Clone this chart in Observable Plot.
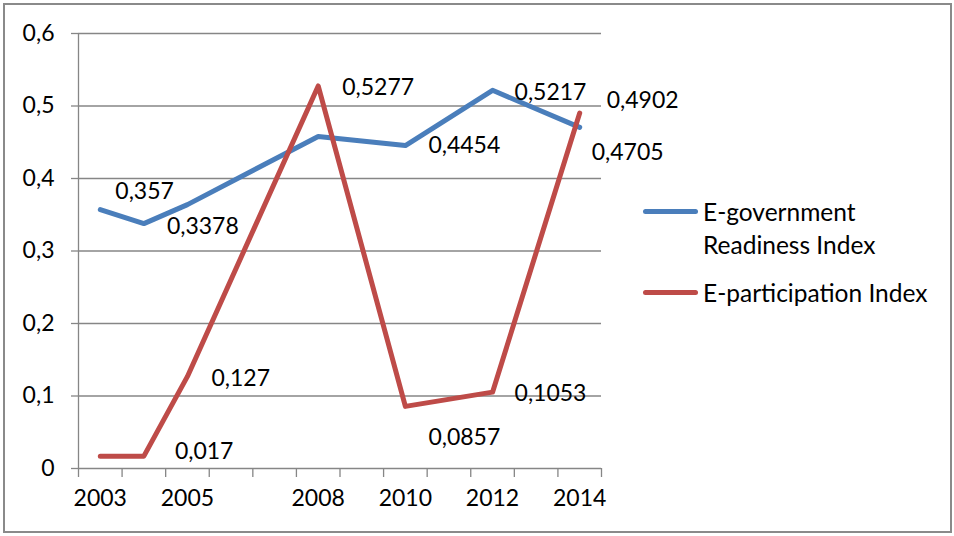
<!DOCTYPE html>
<html>
<head>
<meta charset="utf-8">
<script src="https://cdn.jsdelivr.net/npm/d3@7"></script>
<script src="https://cdn.jsdelivr.net/npm/@observablehq/plot@0.6"></script>
<style>
  html, body { margin: 0; padding: 0; background: #fff; }
  #wrap { position: relative; width: 954px; height: 536px; font-family: Lato, "Open Sans", sans-serif; color: #000; }
  #border { position: absolute; left: 3px; top: 3px; width: 945px; height: 526px; border: 2px solid #8a8a8a; pointer-events: none; }
  #wrap svg { position: absolute; left: 0; top: 0; }
  #wrap svg text { font-family: Lato, "Open Sans", sans-serif; font-size: 23px; fill: #000; }
  #wrap svg g[aria-label*="axis"] line, #wrap svg g[aria-label*="axis"] path { stroke: #868686; stroke-width: 1.3px; }
  .sw { position: absolute; height: 5px; width: 55px; border-radius: 3px; }
  .lt { position: absolute; font-size: 24.5px; line-height: 33px; white-space: nowrap; }
</style>
</head>
<body>
<div id="wrap">
  <div id="chart"></div>
  <div id="legend"></div>
  <div id="border"></div>
</div>
<script>
// ---- data ----
const years = [2003, 2004, 2005, 2008, 2010, 2012, 2014];
const egovValues = [0.357, 0.3378, 0.364, 0.458, 0.4454, 0.5217, 0.4705];
const epartValues = [0.017, 0.017, 0.127, 0.5277, 0.0857, 0.1053, 0.4902];
const egovShowLabel = [true, true, false, false, true, true, true];
const epartShowLabel = [false, true, true, true, true, true, true];
const seriesNames = ["E-government Readiness Index", "E-participation Index"];
const categoryYears = [2003, 2004, 2005, 2006, 2007, 2008, 2009, 2010, 2011, 2012, 2013, 2014];
const xTickLabels = [2003, 2005, 2008, 2010, 2012, 2014];
const yTicks = [0, 0.1, 0.2, 0.3, 0.4, 0.5, 0.6];

// ---- styling ----
const colors = ["#4a7ebb", "#be4b48"];
// label offsets (px) relative to each point, matching the reference's placement
const egovOffsets = [[15, -18], [23, 3], null, null, [23, 0], [22, 2], [12, 25]];
const epartOffsets = [null, [31, -5], [24, 2], [24, 2], [23, 31], [22, 1], [27, -12]];

const fmt = d => String(d).replace(".", ",");

const egov = years.map((year, i) => ({year, value: egovValues[i], show: egovShowLabel[i], off: egovOffsets[i]}));
const epart = years.map((year, i) => ({year, value: epartValues[i], show: epartShowLabel[i], off: epartOffsets[i]}));
const tickBounds = categoryYears.map(y => y - 0.5).concat([categoryYears[categoryYears.length - 1] + 0.5]);

function labelMarks(data) {
  return data.filter(d => d.show).map(d =>
    Plot.text([d], {x: "year", y: "value", text: r => fmt(r.value), textAnchor: "start", dx: d.off[0], dy: d.off[1], fill: "#000"})
  );
}

const chart = Plot.plot({
  width: 954,
  height: 536,
  marginLeft: 78,
  marginRight: 353,
  marginTop: 33,
  marginBottom: 68,
  style: {background: "transparent", fontFamily: "Lato, sans-serif", fontSize: "23px", color: "#000", overflow: "visible"},
  x: {type: "linear", domain: [tickBounds[0], tickBounds[tickBounds.length - 1]], ticks: tickBounds, tickFormat: () => "", tickSize: 9, label: null},
  y: {domain: [0, 0.6], ticks: yTicks, tickFormat: fmt, tickSize: 7, tickPadding: 17, label: null},
  marks: [
    Plot.ruleY(yTicks, {stroke: "#868686", strokeWidth: 1.3}),
    Plot.ruleX([tickBounds[0]], {stroke: "#868686", strokeWidth: 1.3}),
    Plot.text(xTickLabels, {x: d => d, y: () => 0, dy: 30, text: d => String(d), fill: "#000"}),
    Plot.line(egov, {x: "year", y: "value", stroke: colors[0], strokeWidth: 5, strokeLinecap: "round", strokeLinejoin: "round"}),
    Plot.line(epart, {x: "year", y: "value", stroke: colors[1], strokeWidth: 5, strokeLinecap: "round", strokeLinejoin: "round"}),
    ...labelMarks(egov),
    ...labelMarks(epart)
  ]
});
document.getElementById("chart").appendChild(chart);

// ---- legend ----
const legend = document.getElementById("legend");
legend.innerHTML = `
  <div class="sw" style="left:643px;top:209px;background:${colors[0]}"></div>
  <div class="lt" style="left:703px;top:195px">E-government<br>Readiness Index</div>
  <div class="sw" style="left:643px;top:290px;background:${colors[1]}"></div>
  <div class="lt" style="left:703px;top:276px">${seriesNames[1]}</div>`;
</script>
</body>
</html>
